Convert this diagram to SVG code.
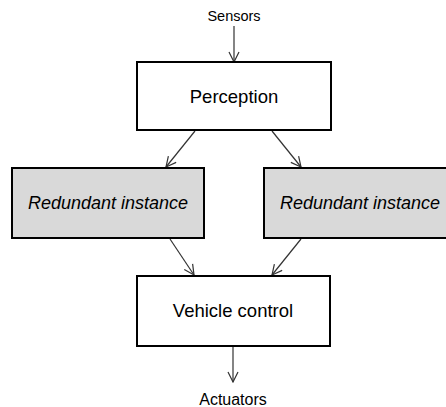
<svg xmlns="http://www.w3.org/2000/svg" width="446" height="407" viewBox="0 0 446 407">
<style>
.box{stroke:#000;stroke-width:2}
.w{fill:#fff}
.g{fill:#d9d9d9}
.t{font-family:"Liberation Sans",Arial,sans-serif;fill:#000;text-anchor:middle}
.i{font-style:italic}
.c{stroke:#333;stroke-width:1.2;fill:none;marker-end:url(#ah)}
</style>
<defs>
<marker id="ah" viewBox="0 0 12 12" refX="11" refY="6" markerWidth="12" markerHeight="12" markerUnits="userSpaceOnUse" orient="auto">
<path d="M1,1 L11,6 L1,11" fill="none" stroke="#333" stroke-width="1.2"/>
</marker>
</defs>
<g id="connectors">
<line class="c" x1="234" y1="26" x2="234" y2="62"/>
<line class="c" x1="195" y1="131" x2="166" y2="167"/>
<line class="c" x1="272" y1="131" x2="301" y2="167"/>
<line class="c" x1="170" y1="239" x2="194" y2="275"/>
<line class="c" x1="301" y1="239" x2="272" y2="275"/>
<line class="c" x1="233" y1="347" x2="233" y2="382"/>
</g>
<g id="sensors"><text class="t" x="234" y="21" font-size="14.5">Sensors</text></g>
<g id="perception">
<rect class="box w" x="137" y="62" width="194" height="68"/>
<text class="t" x="234" y="103" font-size="18.5">Perception</text>
</g>
<g id="redundant1">
<rect class="box g" x="12" y="168" width="192" height="70"/>
<text class="t i" x="108" y="209" font-size="18">Redundant instance</text>
</g>
<g id="redundant2">
<rect class="box g" x="264" y="168" width="192" height="70"/>
<text class="t i" x="360" y="209" font-size="18">Redundant instance</text>
</g>
<g id="vehicle">
<rect class="box w" x="137" y="276" width="193" height="70"/>
<text class="t" x="233" y="317" font-size="18.5">Vehicle control</text>
</g>
<g id="actuators"><text class="t" x="233" y="405" font-size="16">Actuators</text></g>
</svg>
